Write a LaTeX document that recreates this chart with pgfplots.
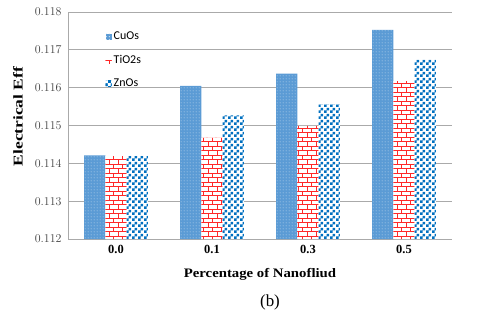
\documentclass[border=0pt]{standalone}
\usepackage{fontspec}
\setmainfont{Liberation Serif}
\newfontfamily\carlito{Carlito}
\usepackage{graphicx}
\usepackage{pgfplots}
\pgfplotsset{compat=1.18}
\usetikzlibrary{patterns.meta}
\definecolor{cuo}{RGB}{91,155,213}
\definecolor{zno}{RGB}{0,112,192}
\definecolor{tio}{RGB}{255,40,40}
\definecolor{gridc}{RGB}{170,170,170}
\definecolor{tickc}{RGB}{64,64,64}
\pgfdeclarepattern{
  name=mydots, type=uncolored,
  bottom left={\pgfpoint{0bp}{0bp}},
  top right={\pgfpoint{3bp}{3bp}},
  tile size={\pgfpoint{3bp}{3bp}},
  code={\pgfpathcircle{\pgfpoint{1.5bp}{1.5bp}}{0.55bp}\pgfusepath{fill}}
}
\pgfdeclarepattern{
  name=mybricks, type=uncolored,
  bottom left={\pgfpoint{-1bp}{-1bp}},
  top right={\pgfpoint{10bp}{10bp}},
  tile size={\pgfpoint{9bp}{9bp}},
  code={\pgfsetlinewidth{0.7bp}
    \pgfpathmoveto{\pgfpoint{-1bp}{0bp}}\pgfpathlineto{\pgfpoint{10bp}{0bp}}
    \pgfpathmoveto{\pgfpoint{-1bp}{4.5bp}}\pgfpathlineto{\pgfpoint{10bp}{4.5bp}}
    \pgfpathmoveto{\pgfpoint{1bp}{0bp}}\pgfpathlineto{\pgfpoint{1bp}{4.5bp}}
    \pgfpathmoveto{\pgfpoint{5.5bp}{4.5bp}}\pgfpathlineto{\pgfpoint{5.5bp}{9bp}}
    \pgfusepath{stroke}}
}
\pgfdeclarepattern{
  name=mychecker, type=uncolored,
  bottom left={\pgfpoint{0bp}{0bp}},
  top right={\pgfpoint{6bp}{6bp}},
  tile size={\pgfpoint{6bp}{6bp}},
  code={\pgfpathrectangle{\pgfpoint{0bp}{0bp}}{\pgfpoint{3bp}{3bp}}
    \pgfpathrectangle{\pgfpoint{3bp}{3bp}}{\pgfpoint{3bp}{3bp}}\pgfusepath{fill}}
}
\begin{document}
\begin{tikzpicture}
\useasboundingbox (-68bp,-78bp) rectangle (412bp,239bp);
\begin{axis}[
  scale only axis, width=384bp, height=227bp,
  ybar=0pt, bar width=21.3bp,
  xmin=-0.5, xmax=3.5, ymin=0.112, ymax=0.118,
  xtick=data, xticklabels={0.0,0.1,0.3,0.5},
  ytick={0.112,0.113,0.114,0.115,0.116,0.117,0.118},
  scaled y ticks=false,
  yticklabel={\carlito\color{tickc}\fontsize{12}{14}\selectfont\pgfmathprintnumber[fixed,precision=3,fixed zerofill]{\tick}},
  yticklabel style={xshift=-3bp},
  xticklabel style={font=\bfseries\fontsize{12.5}{14}\selectfont, yshift=-3bp},
  ymajorgrids, grid style={gridc, line width=0.7pt},
  axis x line*=bottom, axis y line*=left,
  axis line style={gridc, line width=0.7pt},
  major tick length=0pt,
  xlabel={\scalebox{1.14}[1]{\bfseries Percentage of Nanofliud}},
  ylabel={\scalebox{1.3}[1]{\bfseries Electrical Eff}},
  xlabel style={font=\fontsize{13}{15}\selectfont, at={(axis description cs:0.5,-0.154)}, anchor=center},
  ylabel style={font=\fontsize{13.5}{15}\selectfont, at={(axis description cs:-0.13,0.5)}, anchor=center, xshift=9bp},
  legend style={draw=none, fill=none, at={(0.09,0.93)}, anchor=north west,
    font=\carlito\fontsize{12}{14}\selectfont, row sep=10pt,
    legend cell align=left},
]
\addplot[draw=none, fill=cuo, postaction={pattern={mydots}, pattern color=white!85!cuo},
  legend image code/.code={\fill[cuo] (2bp,-3bp) rectangle (8bp,3bp);
    \fill[pattern={mydots}, pattern color=white!85!cuo] (2bp,-3bp) rectangle (8bp,3bp);}]
  coordinates {(0,0.11421) (1,0.11605) (2,0.11637) (3,0.11753)};
\addplot[draw=none, fill=white, postaction={pattern={mybricks}, pattern color=tio},
  legend image code/.code={\fill[pattern={mybricks}, pattern color=tio] (2bp,-3bp) rectangle (8bp,3bp);}]
  coordinates {(0,0.11419) (1,0.11467) (2,0.11499) (3,0.11617)};
\addplot[draw=none, fill=white, postaction={pattern={mychecker}, pattern color=zno},
  legend image code/.code={\fill[pattern={mychecker}, pattern color=zno] (2bp,-3bp) rectangle (8bp,3bp);}]
  coordinates {(0,0.11420) (1,0.11527) (2,0.11556) (3,0.11675)};
\legend{CuOs,TiO2s,ZnOs}
\end{axis}
\node at (202bp,-63bp) {\fontsize{17}{20}\selectfont (b)};
\end{tikzpicture}
\end{document}
